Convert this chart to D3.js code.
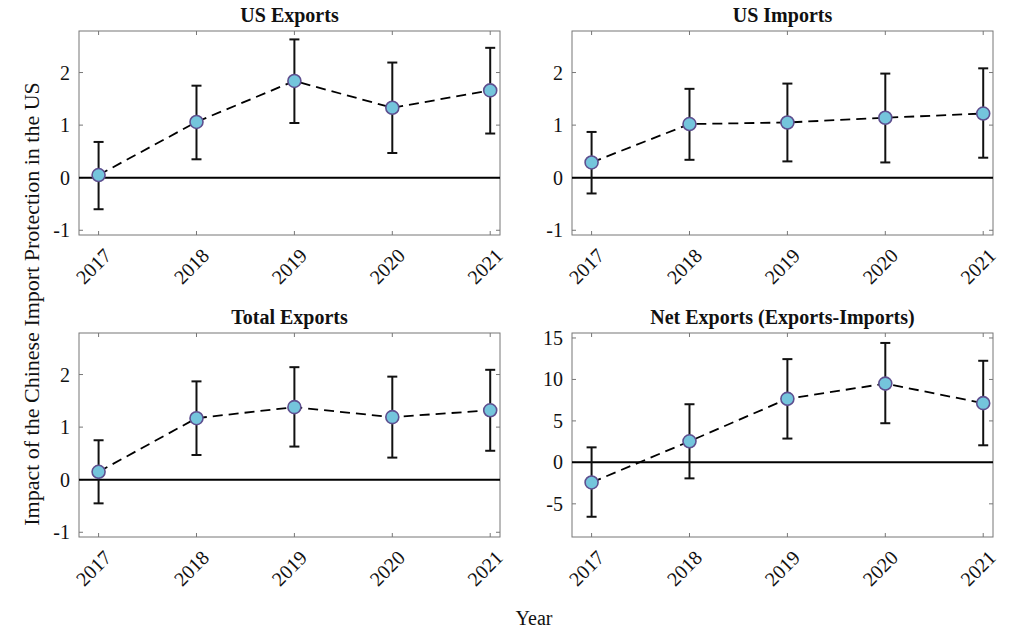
<!DOCTYPE html>
<html><head><meta charset="utf-8">
<script src="https://cdn.jsdelivr.net/npm/d3@7"></script>
<style>body{margin:0;background:#fff;} svg{display:block;font-family:"Liberation Serif","Times New Roman",serif;}</style>
</head><body>
<svg id="c" width="1009" height="639"></svg>
<script>
const years = [2017, 2018, 2019, 2020, 2021];
const titles = ["US Exports", "US Imports", "Total Exports", "Net Exports (Exports-Imports)"];
const usExports = [0.05, 1.06, 1.84, 1.33, 1.66];
const usExportsLo = [-0.60, 0.35, 1.04, 0.47, 0.84];
const usExportsHi = [0.68, 1.75, 2.63, 2.19, 2.47];
const usImports = [0.29, 1.02, 1.05, 1.14, 1.22];
const usImportsLo = [-0.30, 0.34, 0.31, 0.29, 0.38];
const usImportsHi = [0.87, 1.69, 1.79, 1.98, 2.08];
const totalExports = [0.15, 1.17, 1.38, 1.19, 1.32];
const totalExportsLo = [-0.45, 0.47, 0.63, 0.42, 0.55];
const totalExportsHi = [0.75, 1.87, 2.14, 1.96, 2.09];
const netExports = [-2.42, 2.54, 7.66, 9.50, 7.14];
const netExportsLo = [-6.56, -1.93, 2.87, 4.72, 2.06];
const netExportsHi = [1.81, 7.01, 12.45, 14.40, 12.25];
const yTicksSmall = [-1, 0, 1, 2];
const yTicksNet = [-5, 0, 5, 10, 15];
const yLabel = "Impact of the Chinese Import Protection in the US";
const xLabel = "Year";

const panels = [
  {title: titles[0], v: usExports, lo: usExportsLo, hi: usExportsHi, dom: [-1.09, 2.79], ticks: yTicksSmall, x0: 79, y0: 31},
  {title: titles[1], v: usImports, lo: usImportsLo, hi: usImportsHi, dom: [-1.09, 2.79], ticks: yTicksSmall, x0: 572, y0: 31},
  {title: titles[2], v: totalExports, lo: totalExportsLo, hi: totalExportsHi, dom: [-1.09, 2.79], ticks: yTicksSmall, x0: 79, y0: 333},
  {title: titles[3], v: netExports, lo: netExportsLo, hi: netExportsHi, dom: [-9.0, 15.6], ticks: yTicksNet, x0: 572, y0: 333}
];
const W = 421, H = 204;
const FS = 20;
const svg = d3.select("#c");

panels.forEach(p => {
  const g = svg.append("g").attr("transform", `translate(${p.x0},${p.y0})`);
  const x = d3.scaleLinear().domain([2016.8, 2021.1]).range([0, W]);
  const y = d3.scaleLinear().domain(p.dom).range([H, 0]);

  g.append("rect").attr("width", W).attr("height", H).attr("fill", "none").attr("stroke", "#777").attr("stroke-width", 1);
  const tl = 4;
  const tickG = g.append("g").attr("stroke", "#777").attr("stroke-width", 1);
  years.forEach(yr => {
    tickG.append("line").attr("x1", x(yr)).attr("x2", x(yr)).attr("y1", H).attr("y2", H - tl);
    tickG.append("line").attr("x1", x(yr)).attr("x2", x(yr)).attr("y1", 0).attr("y2", tl);
  });
  p.ticks.forEach(t => {
    tickG.append("line").attr("x1", 0).attr("x2", tl).attr("y1", y(t)).attr("y2", y(t));
    tickG.append("line").attr("x1", W).attr("x2", W - tl).attr("y1", y(t)).attr("y2", y(t));
  });
  p.ticks.forEach(t => {
    g.append("text").attr("x", -9).attr("y", y(t)).attr("dy", "0.35em")
      .attr("text-anchor", "end").attr("font-size", FS).attr("fill", "#111").text(t);
  });
  years.forEach(yr => {
    g.append("text").attr("transform", `translate(${x(yr) + 9},${H + 17}) rotate(-45)`)
      .attr("text-anchor", "end").attr("dy", "0.35em").attr("font-size", FS).attr("fill", "#111").text(yr);
  });
  g.append("text").attr("x", W / 2).attr("y", -9).attr("text-anchor", "middle")
    .attr("font-size", 20).attr("font-weight", "bold").attr("fill", "#111").text(p.title);

  g.append("line").attr("x1", 0).attr("x2", W).attr("y1", y(0)).attr("y2", y(0)).attr("stroke", "#000").attr("stroke-width", 2);

  const eb = g.append("g").attr("stroke", "#111").attr("stroke-width", 2);
  years.forEach((yr, i) => {
    const cx = x(yr);
    eb.append("line").attr("x1", cx).attr("x2", cx).attr("y1", y(p.lo[i])).attr("y2", y(p.hi[i]));
    eb.append("line").attr("x1", cx - 5).attr("x2", cx + 5).attr("y1", y(p.lo[i])).attr("y2", y(p.lo[i]));
    eb.append("line").attr("x1", cx - 5).attr("x2", cx + 5).attr("y1", y(p.hi[i])).attr("y2", y(p.hi[i]));
  });
  const line = d3.line().x((d, i) => x(years[i])).y(d => y(d));
  g.append("path").datum(p.v).attr("d", line).attr("fill", "none").attr("stroke", "#000")
    .attr("stroke-width", 1.8).attr("stroke-dasharray", "10,6");
  g.selectAll("circle.m").data(p.v).enter().append("circle")
    .attr("cx", (d, i) => x(years[i])).attr("cy", d => y(d)).attr("r", 6.5)
    .attr("fill", "#74c5dc").attr("stroke", "#5e4f8f").attr("stroke-width", 1.6);
});

svg.append("text").attr("transform", "translate(39,304) rotate(-90)").attr("text-anchor", "middle")
  .attr("font-size", 22).attr("fill", "#111").text(yLabel);
svg.append("text").attr("x", 534).attr("y", 625).attr("text-anchor", "middle")
  .attr("font-size", 20).attr("fill", "#111").text(xLabel);
</script>
</body></html>
